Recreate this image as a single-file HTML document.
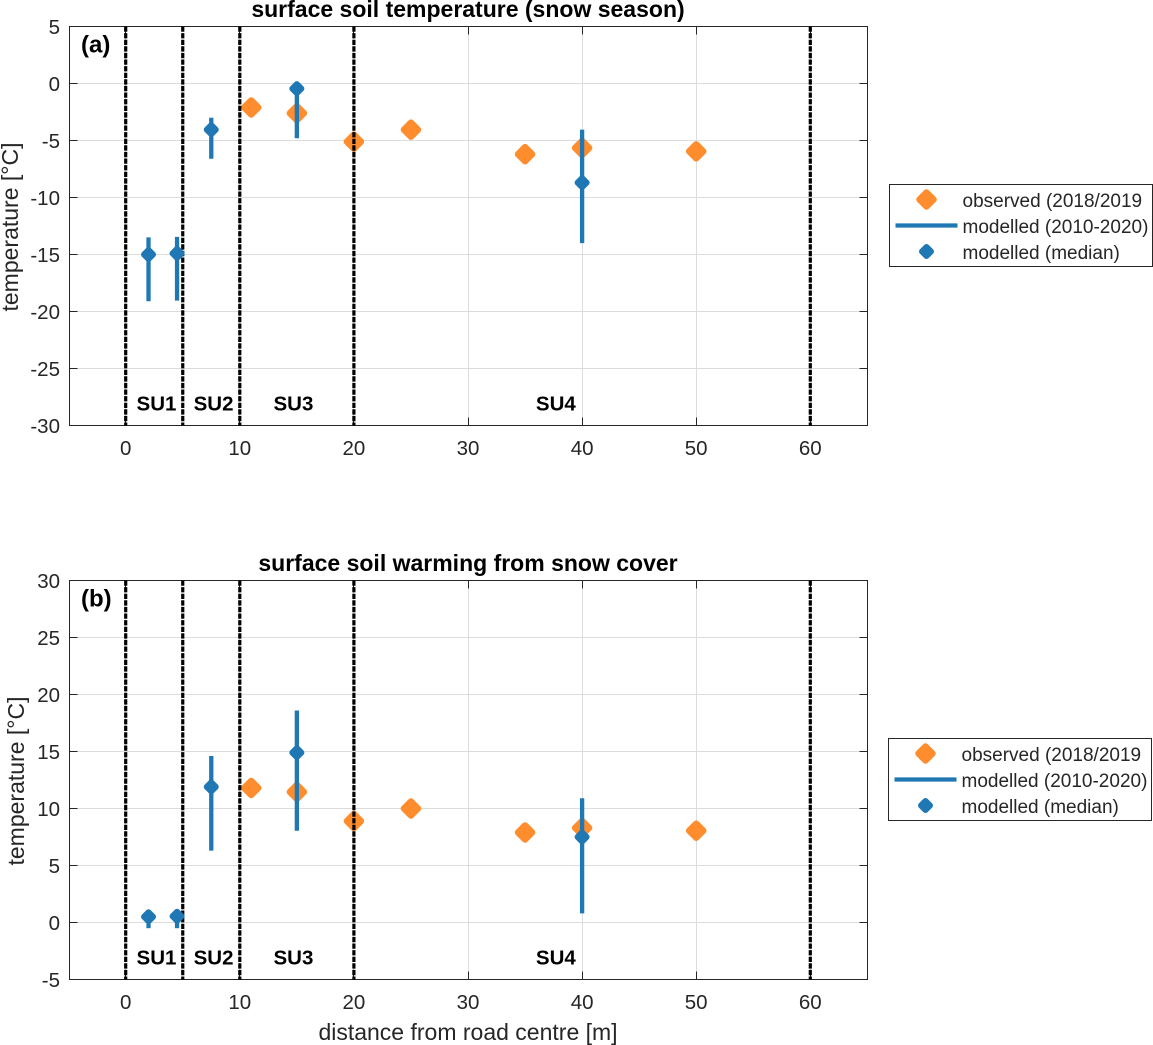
<!DOCTYPE html>
<html>
<head>
<meta charset="utf-8">
<title>Surface soil temperature chart</title>
<style>
html,body{margin:0;padding:0;background:#fff;}
svg{display:block;}
text{font-family:"Liberation Sans",Arial,sans-serif;}
</style>
</head>
<body>
<svg id="chart" xmlns="http://www.w3.org/2000/svg" width="1153" height="1045" viewBox="0 0 1153 1045"></svg>
<script>
const xTicks = [0, 10, 20, 30, 40, 50, 60];
const boundaries = [0, 5, 10, 20, 60];
const unitLabels = ['SU1', 'SU2', 'SU3', 'SU4'];
const unitLabelX = [2.7, 7.7, 14.7, 37.7];

const yTicksA = [5, 0, -5, -10, -15, -20, -25, -30];
const obsXA = [11, 15, 20, 25, 35, 40, 50];
const obsYA = [-2.1, -2.6, -5.1, -4.05, -6.2, -5.65, -5.95];
const modXA = [2, 4.5, 7.5, 15, 40];
const modHighA = [-13.5, -13.45, -3, -0.3, -4.05];
const modLowA = [-19.1, -19.05, -6.6, -4.8, -14];
const modMedA = [-15, -14.9, -4.05, -0.45, -8.7];

const yTicksB = [30, 25, 20, 15, 10, 5, 0, -5];
const obsXB = [11, 15, 20, 25, 35, 40, 50];
const obsYB = [11.8, 11.45, 8.9, 10, 7.9, 8.3, 8.05];
const modXB = [2, 4.5, 7.5, 15, 40];
const modHighB = [0.6, 0.6, 14.6, 18.6, 10.9];
const modLowB = [-0.5, -0.5, 6.3, 8.05, 0.8];
const modMedB = [0.5, 0.55, 11.9, 14.9, 7.5];

const legendLabels = ['observed (2018/2019', 'modelled (2010-2020)', 'modelled (median)'];

const NS = 'http://www.w3.org/2000/svg';
const root = document.getElementById('chart');
const ORANGE = '#ff8c2d';
const BLUE = '#1f77b4';
const INK = '#262626';
const GRID = '#dcdcdc';

function mk(parent, tag, attrs, txt) {
  const el = document.createElementNS(NS, tag);
  for (const k in attrs) el.setAttribute(k, attrs[k]);
  if (txt !== undefined) el.textContent = txt;
  parent.appendChild(el);
  return el;
}
function diamond(parent, cx, cy, r, sw, color) {
  const pts = [[cx, cy - r], [cx + r, cy], [cx, cy + r], [cx - r, cy]].map(p => p.join(',')).join(' ');
  return mk(parent, 'polygon', {points: pts, fill: color, stroke: color, 'stroke-width': sw, 'stroke-linejoin': 'round'});
}
function snap(v) {
  return Math.floor(v) + 0.5;
}

function drawPanel(cfg) {
  const L = 69.5, R = 867.5, T = cfg.top, B = cfg.bottom;
  const X = v => 125.7 + v * 11.41;
  const Y = v => T + (cfg.yMax - v) * (B - T) / (cfg.yMax - cfg.yMin);

  const g = mk(root, 'g', {});
  
  

  const grid = mk(g, 'g', {});
  
  
  xTicks.forEach(t => {
    mk(grid, 'line', {x1: snap(X(t)), x2: snap(X(t)), y1: T, y2: B, stroke: GRID, 'stroke-width': 1});
  });
  cfg.yTicks.forEach(t => {
    mk(grid, 'line', {x1: L, x2: R, y1: snap(Y(t)), y2: snap(Y(t)), stroke: GRID, 'stroke-width': 1});
  });

  const axes = mk(g, 'g', {});
  
  
  mk(axes, 'rect', {x: L, y: T, width: R - L, height: B - T, fill: 'none', stroke: INK, 'stroke-width': 1});
  cfg.yTicks.forEach(t => {
    if (t === cfg.yMax || t === cfg.yMin) return;
    mk(axes, 'line', {x1: L, x2: L + 8, y1: snap(Y(t)), y2: snap(Y(t)), stroke: INK, 'stroke-width': 1});
    mk(axes, 'line', {x1: R - 8, x2: R, y1: snap(Y(t)), y2: snap(Y(t)), stroke: INK, 'stroke-width': 1});
  });
  xTicks.forEach(t => {
    mk(axes, 'line', {x1: snap(X(t)), x2: snap(X(t)), y1: B - 8, y2: B, stroke: INK, 'stroke-width': 1});
    mk(axes, 'line', {x1: snap(X(t)), x2: snap(X(t)), y1: T, y2: T + 8, stroke: INK, 'stroke-width': 1});
  });

  const obs = mk(g, 'g', {});
  
  
  cfg.obsX.forEach((v, i) => {
    const m = diamond(obs, X(v), Y(cfg.obsY[i]), 7, 6.5, ORANGE);
    
    
  });

  const bounds = mk(g, 'g', {});
  
  
  boundaries.forEach(b => {
    mk(bounds, 'line', {x1: X(b), x2: X(b), y1: T, y2: B, stroke: '#000', 'stroke-width': 3.2, 'stroke-dasharray': '5.3 1.3'});
  });

  const mod = mk(g, 'g', {});
  
  
  cfg.modX.forEach((v, i) => {
    const r = mk(mod, 'line', {x1: X(v), x2: X(v), y1: Y(cfg.modHigh[i]), y2: Y(cfg.modLow[i]), stroke: BLUE, 'stroke-width': 4.3});
    
    
    const m = diamond(mod, X(v), Y(cfg.modMed[i]), 4.5, 6, BLUE);
    
    
  });

  const yl = mk(g, 'g', {});
  
  
  cfg.yTicks.forEach(t => {
    mk(yl, 'text', {x: 60, y: Y(t) + 7.5, 'text-anchor': 'end', 'font-size': 20.5, fill: INK}, String(t));
  });
  const xl = mk(g, 'g', {});
  
  
  xTicks.forEach(t => {
    mk(xl, 'text', {x: X(t), y: B + 29.5, 'text-anchor': 'middle', 'font-size': 20.5, fill: INK}, String(t));
  });

  const title = mk(g, 'text', {x: 468, y: cfg.titleY, 'text-anchor': 'middle', 'font-size': 23, 'font-weight': 'bold', fill: '#000'}, cfg.title);
  
  

  const yT = mk(g, 'text', {transform: 'translate(' + cfg.yLabelX + ',' + ((T + B) / 2 + 1) + ') rotate(-90)', 'text-anchor': 'middle', 'font-size': 23, fill: INK}, 'temperature [°C]');
  
  

  const tag = mk(g, 'text', {x: 81, y: T + 26, 'font-size': 24, 'font-weight': 'bold', fill: '#000'}, cfg.tag);
  
  

  unitLabels.forEach((s, i) => {
    const u = mk(g, 'text', {x: X(unitLabelX[i]), y: B - 15, 'text-anchor': 'middle', 'font-size': 20.5, 'font-weight': 'bold', fill: '#000'}, s);
    
    
  });

  const lg = mk(g, 'g', {});
  
  
  const lx = cfg.legendX, ly = cfg.legendY;
  mk(lg, 'rect', {x: lx, y: ly, width: 263, height: 82, fill: '#fff', stroke: INK, 'stroke-width': 1});
  diamond(lg, lx + 37, ly + 15, 7, 6.5, ORANGE);
  mk(lg, 'line', {x1: lx + 6, x2: lx + 68, y1: ly + 41, y2: ly + 41, stroke: BLUE, 'stroke-width': 4.3});
  diamond(lg, lx + 37, ly + 67, 4.5, 6, BLUE);
  legendLabels.forEach((s, i) => {
    mk(lg, 'text', {x: lx + 73, y: ly + 22.5 + i * 26, 'font-size': 19, fill: INK}, s);
  });
}

drawPanel({
  name: 'panel-a', tag: '(a)', title: 'surface soil temperature (snow season)',
  top: 26.5, bottom: 425.5, yMax: 5, yMin: -30, yTicks: yTicksA,
  obsX: obsXA, obsY: obsYA, modX: modXA, modHigh: modHighA, modLow: modLowA, modMed: modMedA,
  titleY: 17, yLabelX: 18, legendX: 889.5, legendY: 184.5
});
drawPanel({
  name: 'panel-b', tag: '(b)', title: 'surface soil warming from snow cover',
  top: 580.5, bottom: 979.5, yMax: 30, yMin: -5, yTicks: yTicksB,
  obsX: obsXB, obsY: obsYB, modX: modXB, modHigh: modHighB, modLow: modLowB, modMed: modMedB,
  titleY: 571, yLabelX: 24, legendX: 888.5, legendY: 738.5
});

const xTitle = mk(root, 'text', {x: 468, y: 1040, 'text-anchor': 'middle', 'font-size': 23, fill: INK}, 'distance from road centre [m]');


</script>
</body>
</html>
